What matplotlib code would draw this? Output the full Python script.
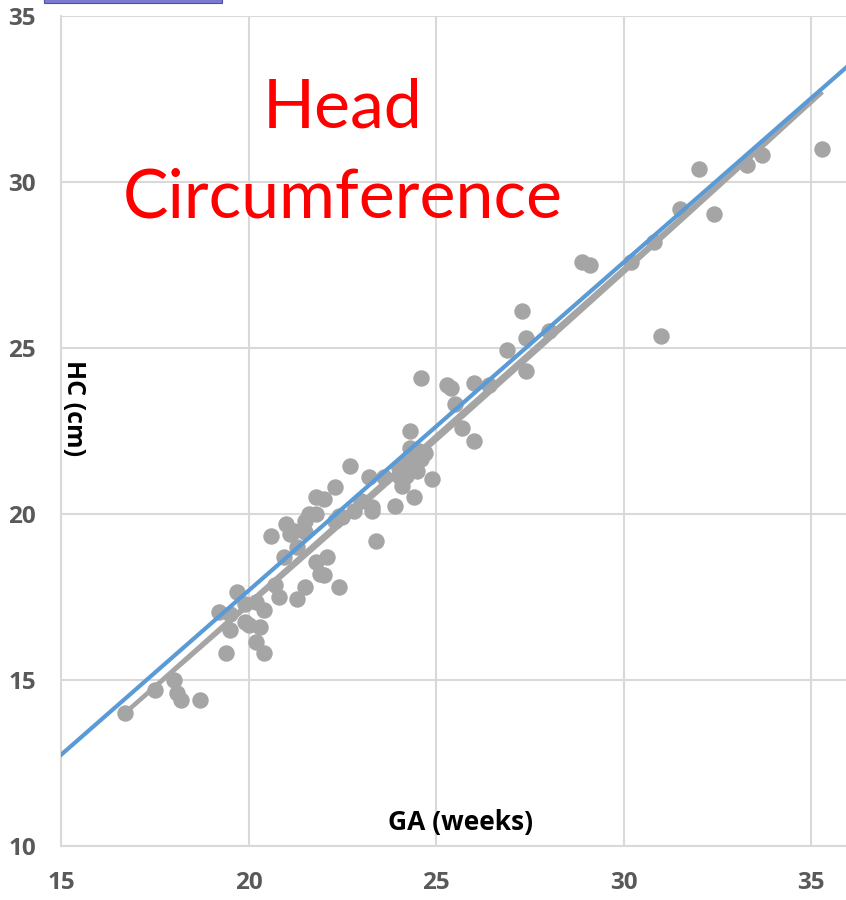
import numpy as np
import matplotlib.pyplot as plt
from matplotlib.patches import Rectangle

plt.rcParams['font.family'] = ['Lato', 'DejaVu Sans']

# scatter data (GA weeks, HC cm)
ga = [16.7, 17.5, 18.0, 18.1, 18.2, 18.7, 19.2, 19.4, 19.5, 19.5,
      19.7, 19.9, 20.0, 20.2, 20.2, 20.3, 20.4, 20.4, 20.6, 20.7,
      20.8, 21.0, 20.95, 21.1, 21.3, 21.3, 21.5, 21.5, 21.5, 21.8,
      21.8, 21.8, 21.9, 22.0, 22.0, 22.1, 22.3, 22.3, 22.4, 22.5,
      22.7, 22.8, 23.2, 23.3, 23.3, 23.4, 23.6, 23.9, 24.0, 24.1,
      24.2, 24.2, 24.3, 24.3, 24.4, 24.55, 24.6, 24.6, 24.7, 24.9,
      25.3, 25.4, 25.5, 25.7, 26.0, 26.0, 26.4, 26.9, 27.3, 27.4,
      27.4, 28.0, 28.9, 29.1, 30.2, 30.8, 31.0, 31.5, 32.0, 32.4,
      33.3, 33.7, 35.3, 21.2, 21.6, 22.4, 24.0, 23.0, 19.9, 24.5]
hc = [14.0, 14.7, 15.0, 14.6, 14.4, 14.4, 17.05, 15.8, 16.5, 17.0,
      17.65, 16.75, 16.65, 17.35, 16.15, 16.6, 17.1, 15.8, 19.35, 17.85,
      17.5, 19.7, 18.7, 19.4, 19.0, 17.45, 17.8, 19.8, 19.45, 20.5,
      20.0, 18.55, 18.2, 20.45, 18.15, 18.7, 19.8, 20.8, 17.8, 19.9,
      21.45, 20.1, 21.1, 20.1, 20.2, 19.2, 21.1, 20.25, 21.15, 20.85,
      21.15, 21.55, 22.5, 22.0, 20.5, 21.9, 24.1, 21.65, 21.85, 21.05,
      23.9, 23.8, 23.3, 22.6, 23.95, 22.2, 23.9, 24.95, 26.1, 25.3,
      24.3, 25.5, 27.6, 27.5, 27.6, 28.2, 25.35, 29.2, 30.4, 29.05,
      30.5, 30.8, 31.0, 19.5, 20.0, 19.95, 21.4, 20.4, 17.3, 21.3]

# trend lines (polynomial coefficients, highest power first)
lin_coef = [1.006, -2.8]
quad_coef = [0.0015, 0.928, -1.916]
ref_coef = [0.989, -2.09]
fit_range = [16.7, 35.3]

xlim = [15, 35.93]
ylim = [10, 35]
xticks = [15, 20, 25, 30, 35]
yticks = [10, 15, 20, 25, 30, 35]

bold_font = ['Open Sans', 'DejaVu Sans']

fig = plt.figure(figsize=(8.46, 9.0), dpi=100)
ax = fig.add_axes([61 / 846, 54 / 900, 785 / 846, 830 / 900])

xf = np.linspace(fit_range[0], fit_range[1], 100)
ax.plot(xf, np.polyval(quad_coef, xf), color='#A5A5A5', lw=3, zorder=3, solid_capstyle='butt')
ax.plot(xf, np.polyval(lin_coef, xf), color='#A5A5A5', lw=3, zorder=3, solid_capstyle='butt')
ax.scatter(ga, hc, s=140, color='#A5A5A5', zorder=4, linewidths=0)
xr = np.array(xlim)
ax.plot(xr, np.polyval(ref_coef, xr), color='#5B9BD5', lw=3, zorder=5)

ax.set_xlim(xlim)
ax.set_ylim(ylim)
ax.set_xticks(xticks)
ax.set_yticks(yticks)
ax.grid(True, color='#D9D9D9', lw=1.5, zorder=0)
ax.set_axisbelow(True)
for s in ['top', 'right']:
    ax.spines[s].set_visible(False)
for s in ['left', 'bottom']:
    ax.spines[s].set_color('#D9D9D9')
    ax.spines[s].set_linewidth(1.5)
ax.tick_params(axis='both', length=0, labelcolor='#595959')
ax.tick_params(axis='y', pad=18)
ax.tick_params(axis='x', pad=18)
for lab in ax.get_xticklabels() + ax.get_yticklabels():
    lab.set_fontweight('bold')
    lab.set_family(bold_font)
    lab.set_fontsize(17.5)

ax.text(15.32, 23.2, 'HC (cm)', rotation=270, ha='center', va='center',
        fontsize=18, fontweight='bold', color='black', family=bold_font)
ax.text(25.64, 10.72, 'GA (weeks)', ha='center', va='center',
        fontsize=19, fontweight='bold', color='black', family=bold_font)

ax.text(22.5, 32.2, 'Head', ha='center', va='center', fontsize=49, color='#FF0000')
ax.text(22.5, 29.5, 'Circumference', ha='center', va='center', fontsize=49, color='#FF0000')

# cropped box at the top edge
fig.patches.append(Rectangle((44 / 846, 897 / 900), 178 / 846, 4 / 900,
                             transform=fig.transFigure, facecolor='#7B7BD3',
                             edgecolor='#4F4F9F', lw=0.8))

fig.savefig('out.png', dpi=100)
